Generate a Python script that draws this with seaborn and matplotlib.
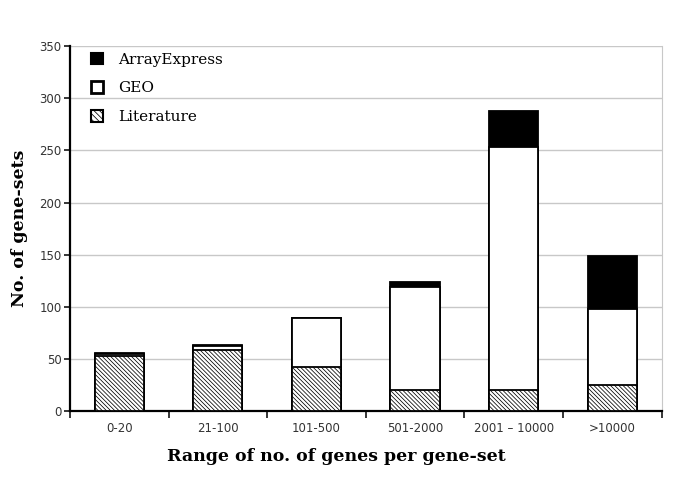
import numpy as np
import pandas as pd
import seaborn as sns
import matplotlib.pyplot as plt
from matplotlib.patches import Patch

categories = ['0-20', '21-100', '101-500', '501-2000', '2001 – 10000', '>10000']
literature = [53, 59, 42, 20, 20, 25]
geo = [2, 3, 47, 99, 233, 73]
arrayexpress = [1, 1, 0, 5, 35, 51]

sns.set_style('white')
plt.rcParams['hatch.linewidth'] = 0.55
plt.rcParams['text.color'] = 'black'

lit = np.array(literature)
lit_geo = lit + np.array(geo)
total = lit_geo + np.array(arrayexpress)
df = pd.DataFrame({'range': categories, 'lit': lit, 'lit_geo': lit_geo, 'total': total})

fig, ax = plt.subplots(figsize=(6.85, 4.9), dpi=100)
fig.subplots_adjust(left=0.102, right=0.966, top=0.906, bottom=0.161)

bar_kw = dict(width=0.5, edgecolor='black', linewidth=1.3, ax=ax, zorder=3)
sns.barplot(data=df, x='range', y='total', color='black', **bar_kw)
sns.barplot(data=df, x='range', y='lit_geo', color='white', **bar_kw)
sns.barplot(data=df, x='range', y='lit', color='white', hatch='\\' * 8, **bar_kw)
# seaborn desaturates colors, force pure black/white
for i, p in enumerate(ax.patches):
    p.set_facecolor('black' if i < len(categories) else 'white')

ax.set_ylim(0, 350)
ax.set_xlim(-0.5, len(categories) - 0.5)
ax.set_yticks(range(0, 351, 50))
ax.yaxis.grid(True, color='#c8c8c8', linewidth=1, zorder=0)
ax.set_axisbelow(True)

ax.set_xticks(np.arange(len(categories)))
ax.set_xticklabels(categories, fontsize=8.5)
ax.set_xticks(np.arange(len(categories) + 1) - 0.5, minor=True)
ax.tick_params(axis='x', which='major', length=0, pad=8, labelcolor='#333333')
ax.tick_params(axis='x', which='minor', length=5, width=1.3, direction='out', bottom=True)
ax.tick_params(axis='y', length=4, width=1.3, direction='out', left=True, labelsize=8.5, pad=2,
               labelcolor='#333333')

for s in ['left', 'bottom']:
    ax.spines[s].set_color('black')
    ax.spines[s].set_linewidth(1.6)
ax.spines['top'].set_visible(False)
ax.spines['right'].set_color('#c8c8c8')

ax.set_xlabel('Range of no. of genes per gene-set', fontsize=12.5, fontweight='bold',
              family='DejaVu Serif', color='black')
ax.xaxis.set_label_coords(0.45, -0.1)
ax.set_ylabel('No. of gene-sets', fontsize=12.5, fontweight='bold',
              family='DejaVu Serif', labelpad=8, color='black')

handles = [
    Patch(facecolor='black', edgecolor='black', linewidth=1.5, label='ArrayExpress'),
    Patch(facecolor='white', edgecolor='black', linewidth=2, label='GEO'),
    Patch(facecolor='white', edgecolor='black', linewidth=1.5, hatch='\\' * 6, label='Literature'),
]
ax.legend(handles=handles, loc='upper left', frameon=False, handlelength=0.8, handleheight=0.8,
          labelspacing=0.95, handletextpad=1.0, prop={'family': 'DejaVu Serif', 'size': 11},
          bbox_to_anchor=(0.012, 1.02))

fig.savefig('out.png', dpi=100)
